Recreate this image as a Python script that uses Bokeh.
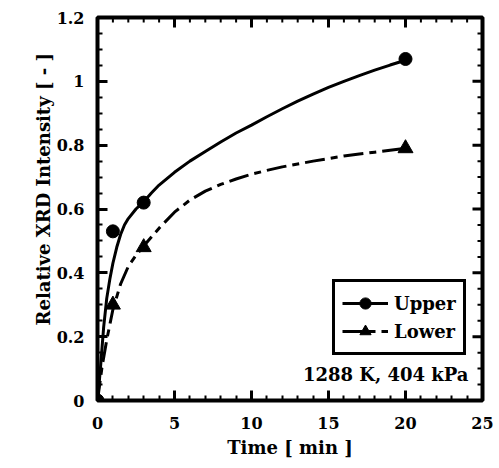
from bokeh.plotting import figure
from bokeh.models import (Range1d, FixedTicker, LinearAxis, CustomJSTickFormatter,
                          Legend, LegendItem, Label, Title)
from bokeh.embed import file_html
from bokeh.resources import INLINE

# Measured points
upper_t = [0, 1, 3, 20]
upper_y = [0, 0.53, 0.62, 1.07]
lower_t = [0, 1, 3, 20]
lower_y = [0, 0.30, 0.48, 0.79]

# Fitted curves
upper_curve_t = [0, 0.1, 0.2, 0.4, 0.6, 0.8, 1.0, 1.25, 1.5, 1.75, 2.0, 2.5, 3.0, 3.5, 4, 5, 6, 7, 8, 9, 10, 11, 12, 13, 14, 15, 16, 17, 18, 19, 20]
upper_curve_y = [0, 0.05, 0.107, 0.23, 0.32, 0.38, 0.43, 0.48, 0.52, 0.55, 0.57, 0.60, 0.623, 0.65, 0.675, 0.715, 0.75, 0.78, 0.81, 0.838, 0.863, 0.889, 0.914, 0.938, 0.96, 0.981, 1.0, 1.018, 1.035, 1.051, 1.066]
lower_curve_t = [0, 0.3, 0.6, 1.0, 1.5, 2.0, 2.5, 3.0, 3.5, 4, 5, 6, 7, 8, 9, 10, 11, 12, 13, 14, 15, 16, 17, 18, 19, 20]
lower_curve_y = [0, 0.107, 0.19, 0.285, 0.365, 0.42, 0.455, 0.484, 0.512, 0.54, 0.59, 0.628, 0.656, 0.677, 0.694, 0.709, 0.721, 0.732, 0.741, 0.75, 0.758, 0.766, 0.772, 0.778, 0.784, 0.79]

x_ticks = [0, 5, 10, 15, 20, 25]
y_ticks = [0, 0.2, 0.4, 0.6, 0.8, 1.0, 1.2]
x_label = "Time [ min ]"
y_label = "Relative XRD Intensity [ - ]"
note = "1288 K, 404 kPa"
series_names = ["Upper", "Lower"]

FONT = "DejaVu Serif"
W, H = 496, 460
ML, MR, MT, MB = 97, 14, 17, 59
X0, X1, Y0, Y1 = 0, 25, 0, 1.2

p = figure(width=W, height=H, output_backend="svg", toolbar_location=None,
           x_range=Range1d(X0, X1), y_range=Range1d(Y0, Y1),
           x_axis_type=None, y_axis_type=None,
           min_border_left=ML, min_border_right=MR, min_border_top=MT, min_border_bottom=MB)
p.outline_line_color = "black"
p.outline_line_width = 4

x_minor = [v for v in range(X0, X1 + 1) if v not in x_ticks]
y_minor = [round(i * 0.05, 2) for i in range(0, 25) if round(i * 0.05, 2) not in y_ticks]

yfmt = CustomJSTickFormatter(code="return (Math.round(tick*100)/100).toString();")
bottom = LinearAxis(ticker=FixedTicker(ticks=x_ticks, minor_ticks=x_minor))
left = LinearAxis(ticker=FixedTicker(ticks=y_ticks, minor_ticks=y_minor), formatter=yfmt)
p.add_layout(bottom, "below")
p.add_layout(left, "left")

for ax in [bottom, left]:
    ax.axis_line_color = "black"
    ax.axis_line_width = 1
    ax.major_tick_line_color = "black"
    ax.minor_tick_line_color = "black"
    ax.major_tick_line_width = 3
    ax.minor_tick_line_width = 2
    ax.major_tick_in = 10
    ax.major_tick_out = 0
    ax.minor_tick_in = 5
    ax.minor_tick_out = 0
    ax.major_label_text_font = FONT
    ax.major_label_text_font_style = "bold"
    ax.major_label_text_font_size = "16px"
    ax.major_label_text_color = "black"
    ax.axis_label_text_font = FONT
    ax.axis_label_text_font_style = "bold"
    ax.axis_label_text_font_size = "18px"
    ax.axis_label_text_color = "black"

bottom.axis_label = x_label
bottom.major_label_standoff = 16
bottom.axis_label_standoff = 5
left.major_label_standoff = 13

p.add_layout(Title(text=y_label, align="left", offset=75, text_font=FONT,
                   text_font_style="bold", text_font_size="18px", text_color="black",
                   standoff=0), "left")

# mirrored inward ticks on top and right, drawn in data space from the tick lists
fw = W - ML - MR
fh = H - MT - MB
dx = (X1 - X0) / fw
dy = (Y1 - Y0) / fh
for vals, ln, w in [(x_ticks, 10, 3), (x_minor, 5, 2)]:
    p.segment(x0=vals, y0=[Y1] * len(vals), x1=vals, y1=[Y1 - ln * dy] * len(vals),
              line_color="black", line_width=w)
for vals, ln, w in [(y_ticks, 10, 3), (y_minor, 5, 2)]:
    p.segment(x0=[X1] * len(vals), y0=vals, x1=[X1 - ln * dx] * len(vals), y1=vals,
              line_color="black", line_width=w)

ru = p.line(upper_curve_t, upper_curve_y, line_color="black", line_width=3)
rl = p.line(lower_curve_t, lower_curve_y, line_color="black", line_width=3, line_dash="20 6 7 6")
pu = p.scatter(upper_t, upper_y, marker="circle", size=13, fill_color="black", line_color="black")
pl = p.scatter(lower_t, lower_y, marker="triangle", size=15, fill_color="black", line_color="black")

legend = Legend(items=[LegendItem(label=series_names[0], renderers=[ru, pu]),
                       LegendItem(label=series_names[1], renderers=[rl, pl])],
                location=(235, 45), margin=0, padding=7, spacing=0,
                glyph_width=46, glyph_height=28, label_height=28, label_standoff=6,
                border_line_color="black", border_line_width=3, border_line_alpha=1,
                background_fill_color="white", background_fill_alpha=1,
                label_text_font=FONT, label_text_font_style="bold",
                label_text_font_size="18px", label_text_color="black")
p.add_layout(legend, "center")

p.add_layout(Label(x=371, y=26, x_units="screen", y_units="screen", text=note,
                   text_align="right", text_baseline="middle", text_font=FONT,
                   text_font_style="bold", text_font_size="18px", text_color="black"))

open("out.html", "w").write(file_html(p, INLINE))
